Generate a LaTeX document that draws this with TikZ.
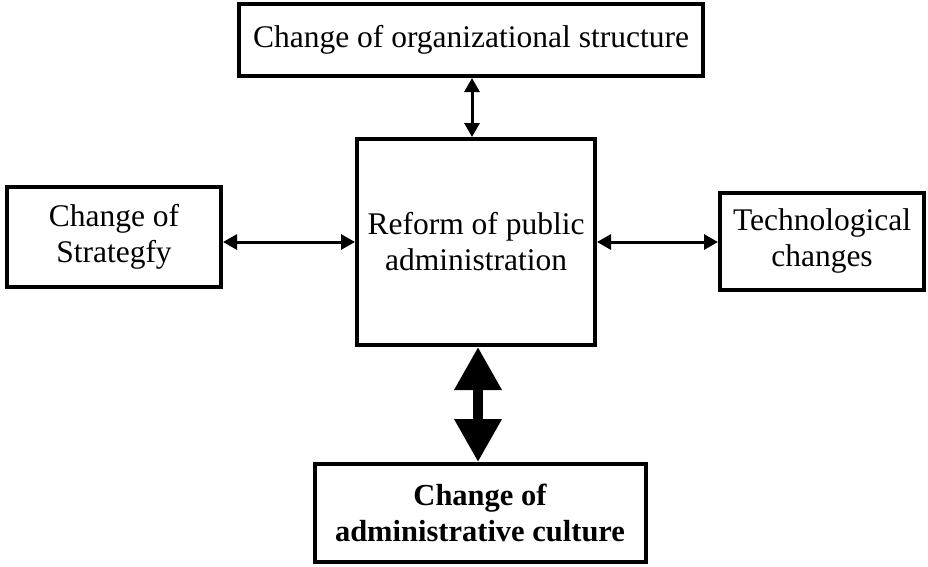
\documentclass[tikz,border=0pt]{standalone}
\usepackage{fontspec}
\setmainfont{Liberation Serif}
\usetikzlibrary{arrows.meta}
\begin{document}
\begin{tikzpicture}[x=1pt,y=-1pt,
  box/.style={draw, line width=4pt, inner sep=0pt, align=center,
    font=\fontsize{31.5}{36}\selectfont},
  link/.style={line width=3pt, {Triangle[length=14pt,width=15pt]}-{Triangle[length=14pt,width=15pt]}},
  biglink/.style={line width=10pt, {Triangle[length=43pt,width=45pt]}-{Triangle[length=43pt,width=45pt]}}]
\useasboundingbox[fill=white] (0,0) rectangle (928,566);
\node[box, minimum width=464pt, minimum height=72pt] (top) at (471,40) {Change of organizational structure};
\node[box, minimum width=238pt, minimum height=206pt] (center) at (476,242) {Reform of public\\administration};
\node[box, minimum width=214pt, minimum height=100pt] (left) at (114,237) {Change of\\Strategfy};
\node[box, minimum width=204pt, minimum height=97pt] (right) at (822,241) {Technological\\changes};
\node[box, minimum width=331pt, minimum height=98pt, font=\fontsize{30.5}{36}\selectfont\bfseries] (bottom) at (480,513) {Change of\\administrative culture};
\draw[link] (top.south -| 472,0) -- (center.north -| 472,0);
\draw[link] (left.east |- 0,242) -- (center.west |- 0,242);
\draw[link] (center.east |- 0,242) -- (right.west |- 0,242);
\draw[biglink] (center.south -| 478,0) -- (bottom.north -| 478,0);
\end{tikzpicture}
\end{document}
